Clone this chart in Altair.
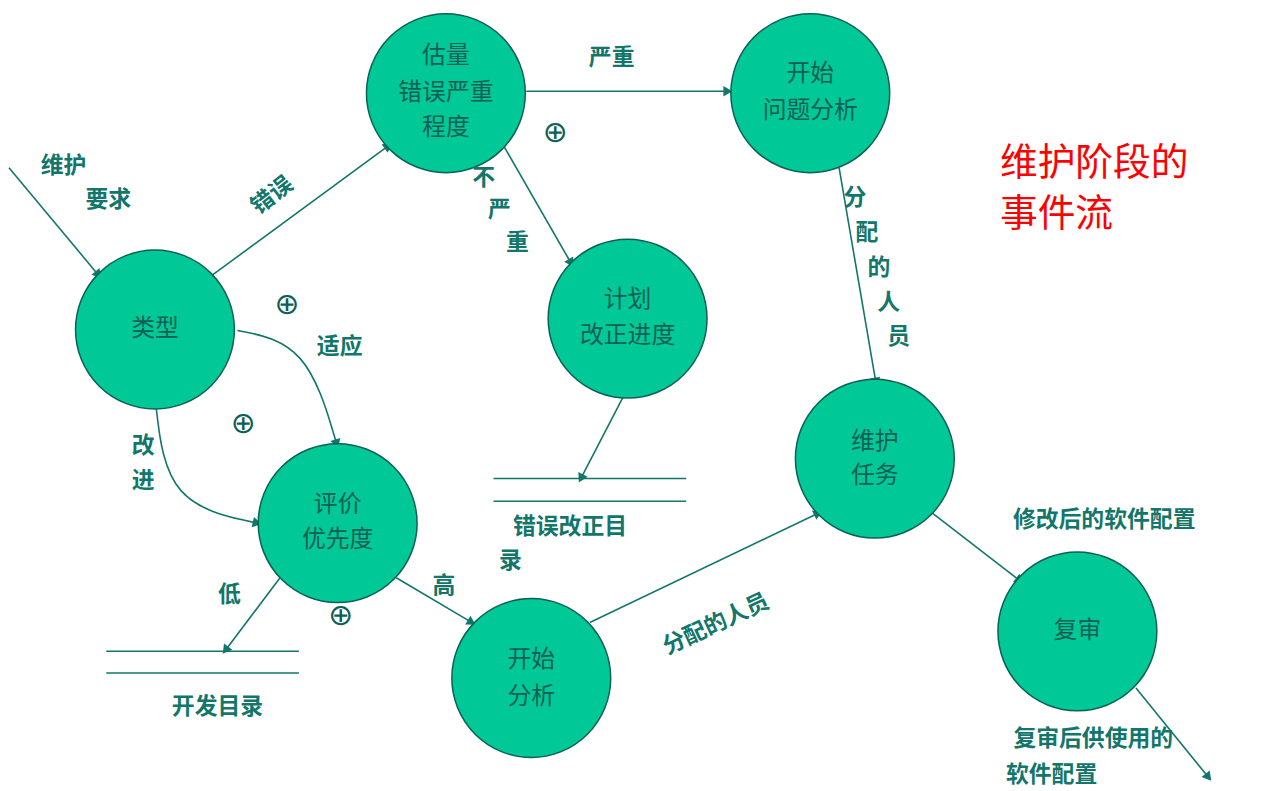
import math
import altair as alt
import pandas as pd

# 节点：名称、中心坐标
node_x = [147, 440, 807, 623, 331, 526, 872, 1076]
node_y = [315, 77, 77, 304, 510, 666, 445, 619]

# 节点文字
node_text = ["类型", "估量", "错误严重", "程度", "开始", "问题分析", "计划", "改正进度",
             "维护", "任务", "评价", "优先度", "开始", "分析", "复审"]
node_tx = [147, 440, 440, 440, 807, 807, 623, 623, 872, 872, 331, 331, 526, 526, 1076]
node_ty = [315, 40, 77, 112, 58, 95, 285, 322, 428, 463, 492, 527, 648, 685, 619]

# 直线箭头 (起点 -> 终点)
arrows = [
    (0, 152, 90, 260), (205, 260, 382, 130), (521, 75, 724, 75),
    (497, 128, 566, 248), (836, 152, 873, 368), (620, 380, 576, 465),
    (273, 565, 218, 638), (390, 565, 466, 610), (585, 610, 815, 500),
    (930, 500, 1018, 568), (1135, 676, 1208, 766),
]

# 曲线箭头
curves = {
    "适应": [(230, 316), (300, 330), (330, 430)],
    "改进": [(148, 392), (160, 490), (250, 510)],
}

# 目录双线
stores = [(488, 682, 465), (488, 682, 488), (98, 292, 639), (98, 292, 661)]

# 边上标签
lab_text = ["维护", "要求", "严重", "不", "严", "重", "分", "配", "的", "人", "员",
            "适应", "改", "进", "低", "高", "修改后的软件配置", "错误改正目", "录",
            "开发目录", "复审后供使用的", "软件配置"]
lab_x = [55, 100, 607, 478, 494, 512, 852, 864, 876, 886, 896,
         333, 135, 135, 222, 438, 1103, 565, 505, 210, 1092, 1050]
lab_y = [150, 185, 42, 162, 195, 228, 183, 218, 253, 288, 323,
         333, 432, 468, 582, 573, 507, 514, 548, 695, 727, 764]
rot_text = ["错误", "分配的人员"]
rot_x = [265, 712]
rot_y = [180, 612]
rot_angle = [322, 335]

plus_x = [550, 280, 236, 334]
plus_y = [117, 290, 410, 604]

title_lines = ["维护阶段的", "事件流"]
title_y = [148, 200]

TEAL = "#12766a"
FILL = "#00c896"
FONT = "Noto Sans CJK SC"

X = alt.X("x:Q", scale=alt.Scale(domain=[8, 1272]), axis=None)
Y = alt.Y("y:Q", scale=alt.Scale(domain=[8, 783], reverse=True), axis=None)
X2 = alt.X2("x2:Q")
Y2 = alt.Y2("y2:Q")

seg = pd.DataFrame(arrows, columns=["x", "y", "x2", "y2"])
lines = alt.Chart(seg).mark_rule(color=TEAL, strokeWidth=1.6).encode(x=X, y=Y, x2=X2, y2=Y2)

heads = []
for x1, y1, x2, y2 in arrows:
    heads.append((x2, y2, math.degrees(math.atan2(x2 - x1, -(y2 - y1))) % 360))
for pts in curves.values():
    (xa, ya), (xb, yb) = pts[-2], pts[-1]
    heads.append((xb, yb, math.degrees(math.atan2(xb - xa, -(yb - ya))) % 360))
hd = pd.DataFrame(heads, columns=["x", "y", "a"])
arrowheads = alt.Chart(hd).mark_point(shape="triangle-up", filled=True, color=TEAL,
                                      size=110, opacity=1).encode(x=X, y=Y, angle=alt.Angle("a:Q", scale=None))

crows = []
for k, pts in curves.items():
    for i, (px, py) in enumerate(pts):
        crows.append({"c": k, "i": i, "x": px, "y": py})
curve_lines = alt.Chart(pd.DataFrame(crows)).mark_line(color=TEAL, strokeWidth=1.6,
                                                       interpolate="basis").encode(
    x=X, y=Y, detail="c:N", order="i:Q")

st = pd.DataFrame(stores, columns=["x", "x2", "y"])
store_lines = alt.Chart(st).mark_rule(color=TEAL, strokeWidth=1.6).encode(x=X, x2=X2, y=Y)

nodes = alt.Chart(pd.DataFrame({"x": node_x, "y": node_y})).mark_point(
    shape="circle", filled=True, size=160 * 160, color=FILL, opacity=1,
    stroke="#0e5f55", strokeWidth=1.5).encode(x=X, y=Y)

ntext = alt.Chart(pd.DataFrame({"x": node_tx, "y": node_ty, "t": node_text})).mark_text(
    font=FONT, fontSize=24, color="#0e5f55", baseline="middle").encode(x=X, y=Y, text="t:N")

labels = alt.Chart(pd.DataFrame({"x": lab_x, "y": lab_y, "t": lab_text})).mark_text(
    font=FONT, fontSize=23, color=TEAL, fontWeight="bold", baseline="middle").encode(x=X, y=Y, text="t:N")

rlabels = alt.Chart(pd.DataFrame({"x": rot_x, "y": rot_y, "t": rot_text, "a": rot_angle})).mark_text(
    font=FONT, fontSize=23, color=TEAL, fontWeight="bold", baseline="middle").encode(
    x=X, y=Y, text="t:N", angle=alt.Angle("a:Q", scale=None))

plus = alt.Chart(pd.DataFrame({"x": plus_x, "y": plus_y, "t": ["⊕"] * 4})).mark_text(
    font="DejaVu Sans", fontSize=30, color="#0e5f55", baseline="middle").encode(x=X, y=Y, text="t:N")

title = alt.Chart(pd.DataFrame({"x": [998, 998], "y": title_y, "t": title_lines})).mark_text(
    font=FONT, fontSize=38, color="#ff0000", align="left", baseline="middle").encode(x=X, y=Y, text="t:N")

chart = alt.layer(lines, curve_lines, store_lines, arrowheads, nodes, ntext, labels,
                  rlabels, plus, title).properties(
    width=1264, height=775, padding=0).configure_view(stroke=None)

chart.save("out.html", embed_options={"renderer": "svg", "actions": False})
